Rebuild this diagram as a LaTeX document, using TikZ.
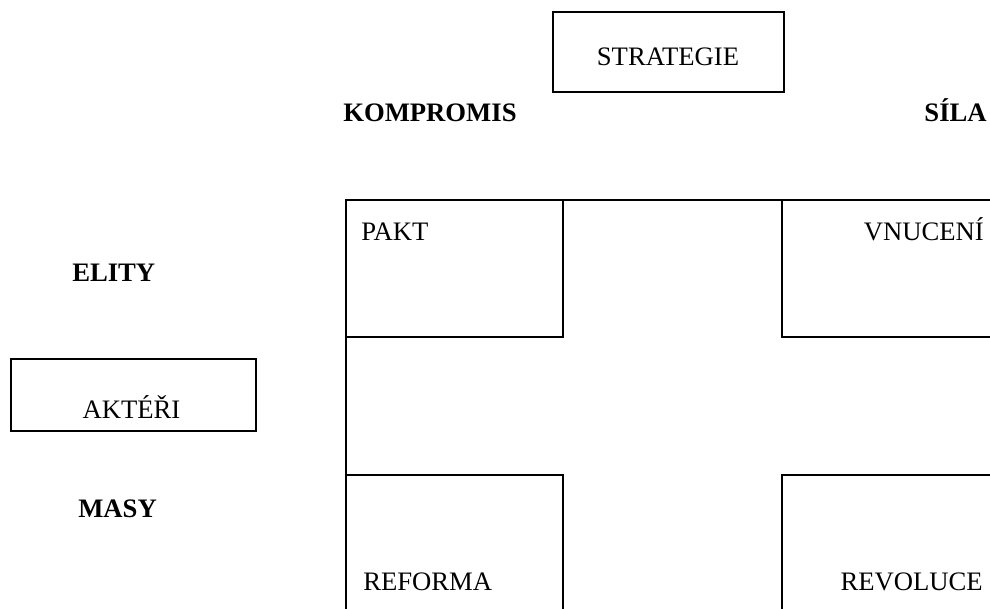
\documentclass[tikz,border=0pt]{standalone}
\usepackage{fontspec}
\setmainfont{Liberation Serif}
\tikzset{
  lbl/.style={inner sep=0pt, font=\fontsize{20}{24}\selectfont},
  blbl/.style={inner sep=0pt, font=\fontsize{20}{24}\selectfont\bfseries},
  frame/.style={draw, line width=1.5pt},
  boxnode/.style={draw, line width=1.5pt, inner sep=0pt},
}
\begin{document}
\begin{tikzpicture}[x=0.75pt,y=-0.75pt]
\useasboundingbox (0,0) rectangle (990,608);
\clip (0,0) rectangle (990,608);
% header boxes
\node[boxnode, minimum width=173.25pt, minimum height=60pt] (strat) at (668.5,52) {};
\node[lbl, anchor=base] (stratT) at (668,65) {STRATEGIE};
\node[boxnode, minimum width=183.75pt, minimum height=54pt] (akt) at (133.5,395) {};
\node[lbl, anchor=base] (aktT) at (131.5,418) {AKTÉŘI};
% column and row labels
\node[blbl, anchor=base west] (komp) at (343,121) {KOMPROMIS};
\node[blbl, anchor=base east] (sila) at (987,121) {SÍLA};
\node[blbl, anchor=base west] (elity) at (72,281) {ELITY};
\node[blbl, anchor=base west] (masy) at (78,517) {MASY};
% big frame
\draw[frame] (346,620) -- (346,200) -- (1000,200);
% quadrant boxes
\draw[frame] (346,200) rectangle (563,337);
\draw[frame] (1000,337) -- (782,337) -- (782,200);
\draw[frame] (346,475) -- (563,475) -- (563,620);
\draw[frame] (1000,475) -- (782,475) -- (782,620);
% quadrant labels
\node[lbl, anchor=base west] (pakt) at (361,240) {PAKT};
\node[lbl, anchor=base east] (vnuc) at (984,240) {VNUCENÍ};
\node[lbl, anchor=base west] (ref) at (363,590) {REFORMA};
\node[lbl, anchor=base east] (rev) at (983,590) {REVOLUCE};
\end{tikzpicture}
\end{document}
